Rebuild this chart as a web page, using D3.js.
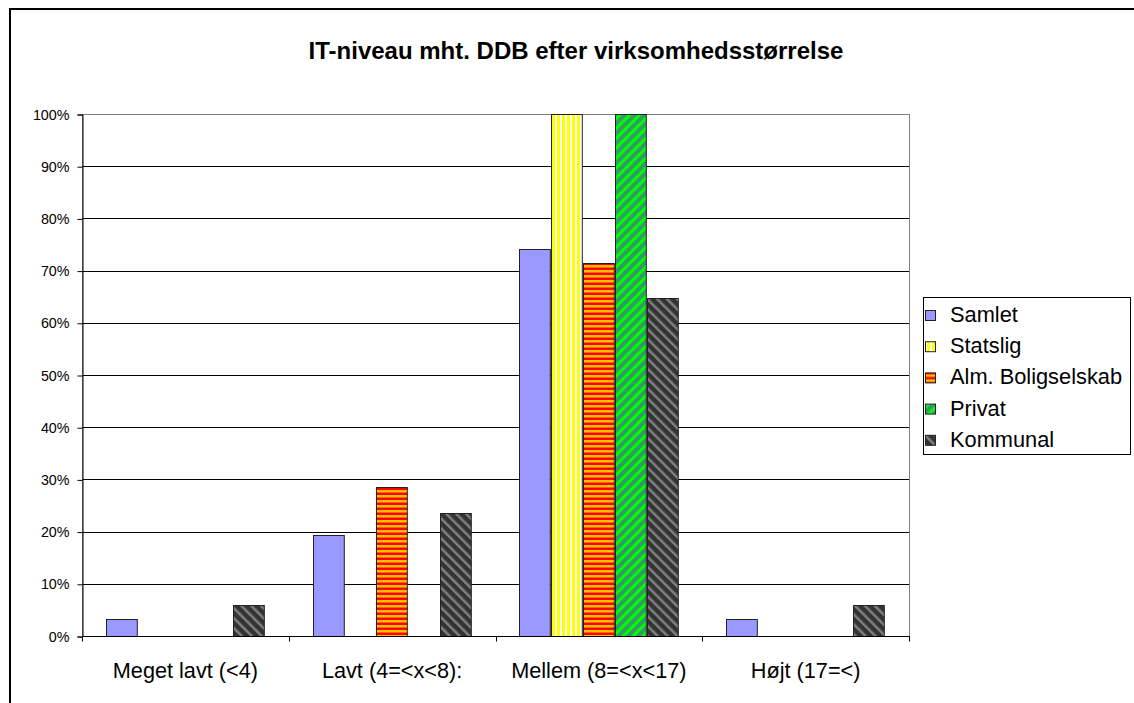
<!DOCTYPE html>
<html>
<head>
<meta charset="utf-8">
<script src="https://cdn.jsdelivr.net/npm/d3@7"></script>
<style>
  html, body { margin: 0; padding: 0; background: #fff; }
  svg { display: block; }
  text { font-family: "Liberation Sans", Arial, sans-serif; fill: #000; }
</style>
</head>
<body>
<svg id="chart" width="1134" height="703"></svg>
<script>
// IT level by company size, share of respondents (%) per group
const categories = ["Meget lavt (<4)", "Lavt (4=<x<8):", "Mellem (8=<x<17)", "Højt (17=<)"];
const seriesNames = ["Samlet", "Statslig", "Alm. Boligselskab", "Privat", "Kommunal"];
const samlet   = [3.2, 19.4, 74.2, 3.2];
const statslig = [0, 0, 100, 0];
const alm      = [0, 28.6, 71.4, 0];
const privat   = [0, 0, 100, 0];
const kommunal = [5.9, 23.5, 64.7, 5.9];
const yTicks   = [0, 10, 20, 30, 40, 50, 60, 70, 80, 90, 100];
const title    = "IT-niveau mht. DDB efter virksomhedsstørrelse";

const seriesValues = [samlet, statslig, alm, privat, kommunal];
const fills = ["#9999FF", "url(#pStat)", "url(#pAlm)", "url(#pPriv)", "url(#pKom)"];

const svg = d3.select("#chart");
const plot = { left: 82, right: 909, top: 114, bottom: 636 };

// hatch patterns for the series
const defs = svg.append("defs");
function pattern(id, size, angle, bg, fg, stripe) {
  const p = defs.append("pattern").attr("id", id)
    .attr("patternUnits", "userSpaceOnUse")
    .attr("width", size).attr("height", size)
    .attr("patternTransform", angle ? `rotate(${angle})` : null);
  p.append("rect").attr("width", size).attr("height", size).attr("fill", bg);
  p.append("rect").attr("width", stripe).attr("height", size).attr("fill", fg);
}
pattern("pStat", 5, 0, "#FFFF00", "#FFFFFF", 2);
pattern("pAlm", 5, 90, "#FF0000", "#FFC000", 2.5);
pattern("pPriv", 7, 45, "#339966", "#00FF00", 3);
pattern("pKom", 7, -45, "#333333", "#808080", 2.5);

// outer frame
svg.append("path")
  .attr("d", "M10,703 L10,9 L1140,9")
  .attr("fill", "none").attr("stroke", "#000").attr("stroke-width", 2);

svg.append("text")
  .attr("x", 576).attr("y", 59)
  .attr("text-anchor", "middle")
  .attr("font-size", 24).attr("font-weight", "bold")
  .text(title);

const x0 = d3.scaleBand().domain(categories).range([plot.left, plot.right]).padding(0);
const x1 = d3.scaleBand().domain(seriesNames).range([0, x0.bandwidth()])
  .paddingInner(0).paddingOuter(0.75);
const y = d3.scaleLinear().domain([0, 100]).range([plot.bottom, plot.top]);

// gridlines
svg.append("g").selectAll("line").data(yTicks.filter(d => d > 0 && d < 100)).join("line")
  .attr("x1", plot.left).attr("x2", plot.right)
  .attr("y1", d => Math.round(y(d)) + 0.5).attr("y2", d => Math.round(y(d)) + 0.5)
  .attr("stroke", "#000").attr("stroke-width", 1);

// plot area border
svg.append("rect")
  .attr("x", plot.left + 0.5).attr("y", plot.top + 0.5)
  .attr("width", plot.right - plot.left).attr("height", plot.bottom - plot.top)
  .attr("fill", "none").attr("stroke", "#808080").attr("stroke-width", 1);

// bars
const groups = svg.append("g").selectAll("g").data(seriesNames).join("g")
  .attr("fill", (d, i) => fills[i]);
groups.selectAll("rect")
  .data((s, i) => seriesValues[i].map((v, j) => ({ cat: categories[j], v, s })))
  .join("rect")
  .filter(d => d.v > 0)
  .attr("x", d => Math.round(x0(d.cat) + x1(d.s)) + 0.5)
  .attr("width", x1.bandwidth() - 1)
  .attr("y", d => Math.round(y(d.v)) + 0.5)
  .attr("height", d => Math.round(y(0)) - Math.round(y(d.v)))
  .attr("stroke", "#222").attr("stroke-width", 1);

// y axis
const yAxis = d3.axisLeft(y).tickValues(yTicks).tickSize(5).tickPadding(8)
  .tickFormat(d => d + "%");
const gy = svg.append("g").attr("transform", `translate(${plot.left + 0.5},0.5)`).call(yAxis);
gy.select(".domain").attr("stroke", "#000");
gy.selectAll(".tick line").attr("stroke", "#000");
gy.selectAll("text").attr("font-size", 14.3).attr("font-family", "Liberation Sans, Arial, sans-serif");

// x axis with ticks at category boundaries
const gx = svg.append("g").attr("transform", `translate(0,${plot.bottom + 0.5})`);
gx.append("line").attr("x1", plot.left).attr("x2", plot.right + 1)
  .attr("stroke", "#000");
const bounds = categories.map(c => x0(c)).concat([plot.right]);
gx.selectAll("line.tk").data(bounds).join("line").attr("class", "tk")
  .attr("x1", d => Math.round(d) + 0.5).attr("x2", d => Math.round(d) + 0.5)
  .attr("y1", 0).attr("y2", 5).attr("stroke", "#000");
gx.selectAll("text").data(categories).join("text")
  .attr("x", d => x0(d) + x0.bandwidth() / 2)
  .attr("y", 41)
  .attr("text-anchor", "middle")
  .attr("font-size", 21.7)
  .text(d => d);

// legend
const lg = svg.append("g");
lg.append("rect").attr("x", 923.5).attr("y", 297.5).attr("width", 207).attr("height", 157)
  .attr("fill", "#fff").attr("stroke", "#000");
const items = lg.selectAll("g.item").data(seriesNames).join("g").attr("class", "item")
  .attr("transform", (d, i) => `translate(925,${322 + i * 31.2})`);
items.append("rect").attr("x", 0.5).attr("y", -11.5).attr("width", 10).attr("height", 10)
  .attr("fill", (d, i) => fills[i]).attr("stroke", "#222");
items.append("text").attr("x", 25).attr("y", 0).attr("font-size", 21.8).text(d => d);
</script>
</body>
</html>
